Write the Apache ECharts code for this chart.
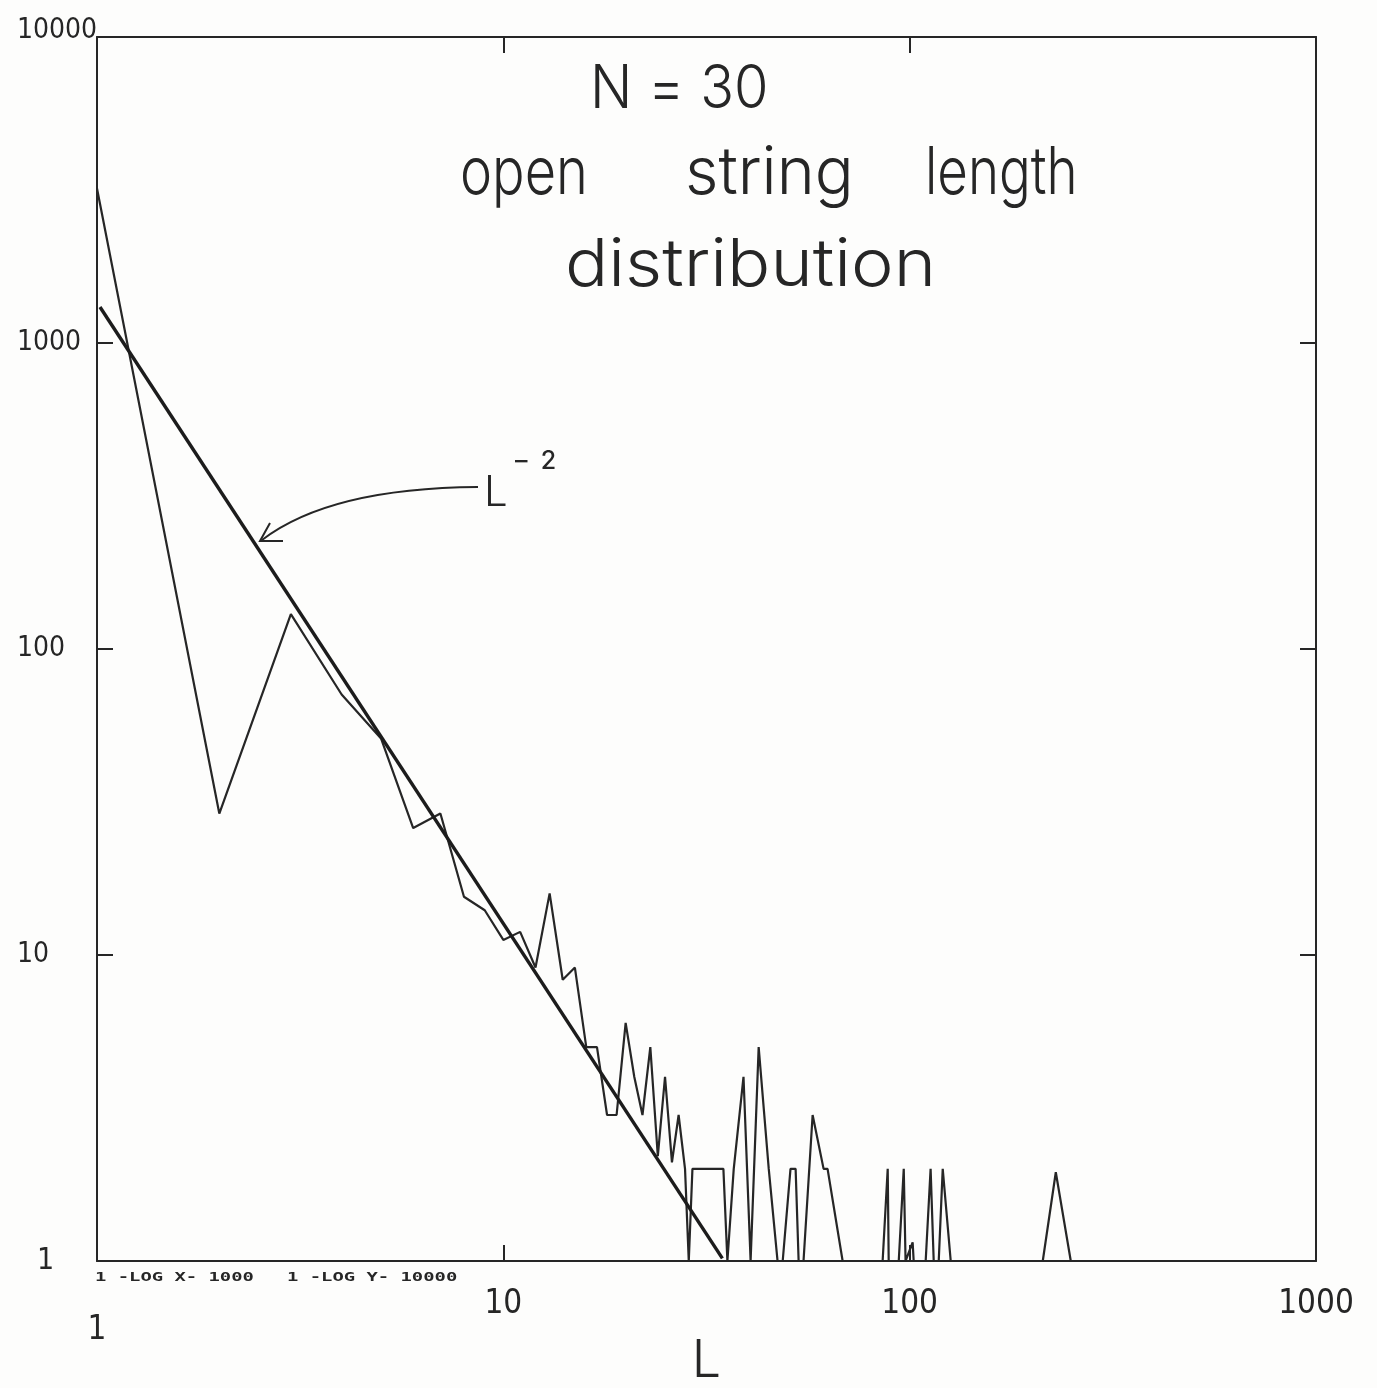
<!DOCTYPE html>
<html>
<head>
<meta charset="utf-8">
<script src="https://cdn.jsdelivr.net/npm/echarts@6/dist/echarts.min.js"></script>
<style>
html,body{margin:0;padding:0;background:#fdfdfc;}
#chart{width:1377px;height:1388px;}
</style>
</head>
<body>
<div id="chart"></div>
<script>
// ---- data ----
// open string length L (x) and number of strings (y)
const lengthL = [1, 2, 3, 4, 5, 6, 7, 8, 9, 10, 11, 12, 13, 14, 15, 16, 17, 18, 19, 20,
  21, 22, 23, 24, 25, 26, 27, 28, 28.6, 29.2, 34.8, 35.6, 36.9, 39.0, 40.6, 42.5, 45.0, 47.3,
  48.7, 50.9, 52.4, 53.3, 54.8, 57.7, 61.4, 62.8, 68.4, 85.8, 88.3, 88.8, 94.0, 96.7, 97.7,
  101.7, 102.3, 109.5, 112.6, 114.6, 117.9, 120.6, 126.2, 212.6, 228.9, 249.2, 1000];
const counts = [3200, 29, 130, 71, 51, 26, 29, 15.5, 14, 11.2, 11.9, 9.1, 15.9, 8.3, 9.1, 5, 5, 3, 3, 6,
  4, 3, 5, 2.2, 4, 2.1, 3, 2, 1, 2, 2, 1, 2, 4, 1, 5, 2, 1,
  1, 2, 2, 1, 1, 3, 2, 2, 1, 1, 2, 1, 1, 2, 1,
  1.15, 1, 1, 2, 1, 1, 2, 1, 1, 1.95, 1, 1];
// L^-2 reference line, two end points
const fitL = [1.017, 34.6];
const fitCounts = [1311, 1.02];
// axis ticks
const xTickValues = [1, 10, 100, 1000];
const xTickLabels = ['1', '10', '100', '1000'];
const yTickValues = [1, 10, 100, 1000, 10000];
const yTickLabels = ['1', '10', '100', '1000', '10000'];
// texts
const titleLine1 = 'N = 30';
const titleWords = ['open', 'string', 'length'];
const titleLine3 = 'distribution';
const fitLabel = 'L';
const fitLabelSup = '–  2';
const plotterNote1 = '1 -LOG X- 1000';
const plotterNote2 = '1 -LOG Y- 10000';
const xName = 'L';

const ink = '#262626';
const hand = 'Inter, "Open Sans", "DejaVu Sans", sans-serif';
const narrow = '"Liberation Sans Narrow", "DejaVu Sans Condensed", Inter, sans-serif';

const dataPairs = lengthL.map((l, i) => [l, counts[i]]);
const fitPairs = fitL.map((l, i) => [l, fitCounts[i]]);

function lab(values, labels) {
  return v => {
    const i = values.findIndex(t => Math.abs(t - v) / t < 1e-6);
    return i >= 0 ? labels[i] : '';
  };
}

const chart = echarts.init(document.getElementById('chart'), null, {renderer: 'canvas'});
const axisLineStyle = {show: true, lineStyle: {color: ink, width: 2}};
const tickStyle = {show: true, inside: true, length: 16, lineStyle: {color: ink, width: 2}};

function handText(text, left, top, size, sx) {
  return {type: 'text', left: left, top: top, scaleX: sx,
    style: {text: text, font: '300 ' + size + 'px ' + hand, fill: ink}};
}

chart.setOption({
  backgroundColor: '#fdfdfc',
  animation: false,
  grid: {left: 97, right: 61, top: 37, bottom: 127, show: false, containLabel: false, outerBoundsMode: 'none'},
  xAxis: [{
    type: 'log', logBase: 10, min: 1, max: 1000, position: 'bottom',
    axisLine: axisLineStyle, axisTick: tickStyle, splitLine: {show: false},
    minorTick: {show: false},
    axisLabel: {
      margin: 27, color: ink, fontFamily: narrow, fontSize: 33,
      formatter: v => {
        const s = lab(xTickValues, xTickLabels)(v);
        return v === 1 ? '{one|' + s + '}' : s;
      },
      rich: {one: {fontFamily: narrow, fontSize: 33, color: ink, padding: [26, 0, 0, 0]}}
    },
    name: xName, nameLocation: 'middle', nameGap: 74, nameMoveOverlap: false,
    nameTextStyle: {color: ink, fontFamily: hand, fontSize: 52, fontWeight: 300}
  }, {
    type: 'log', logBase: 10, min: 1, max: 1000, position: 'top',
    axisLine: axisLineStyle, axisTick: tickStyle, splitLine: {show: false},
    axisLabel: {show: false}
  }],
  yAxis: [{
    type: 'log', logBase: 10, min: 1, max: 10000, position: 'left',
    axisLine: axisLineStyle, axisTick: tickStyle, splitLine: {show: false},
    axisLabel: {
      margin: 80, align: 'left', color: ink, fontFamily: narrow, fontSize: 28,
      formatter: v => {
        const s = lab(yTickValues, yTickLabels)(v);
        if (v === 1) return '{one|' + s + '}';
        if (v === 10000) return '{top|' + s + '}';
        return s;
      },
      rich: {
        one: {fontFamily: narrow, fontSize: 30, color: ink, padding: [0, 0, 0, 20]},
        top: {fontFamily: narrow, fontSize: 28, color: ink, padding: [0, 0, 12, 0]}
      }
    }
  }, {
    type: 'log', logBase: 10, min: 1, max: 10000, position: 'right',
    axisLine: axisLineStyle, axisTick: tickStyle, splitLine: {show: false},
    axisLabel: {show: false}
  }],
  series: [{
    type: 'line', name: 'data', data: dataPairs, showSymbol: false, symbol: 'none',
    lineStyle: {color: ink, width: 2.2}, clip: true, z: 3
  }, {
    type: 'line', name: 'L^-2', data: fitPairs, showSymbol: false, symbol: 'none',
    lineStyle: {color: '#1c1c1c', width: 3.4}, z: 4
  }],
  graphic: [
    handText(titleLine1, 590, 60, 60, 0.93),
    handText(titleWords[0], 460, 141, 66, 0.82),
    handText(titleWords[1], 685, 141, 66, 0.98),
    handText(titleWords[2], 925, 141, 66, 0.8),
    handText(titleLine3, 565, 233, 66, 1.09),
    {type: 'text', left: 484, top: 472, style: {text: fitLabel, font: '300 42px ' + hand, fill: ink}},
    {type: 'text', left: 515, top: 449, style: {text: fitLabelSup, font: '500 25px ' + hand, fill: ink}},
    {type: 'bezierCurve', shape: {x1: 478, y1: 487, x2: 262, y2: 540, cpx1: 330, cpy1: 488},
      style: {stroke: ink, lineWidth: 2, fill: null}},
    {type: 'polyline', shape: {points: [[283, 541], [260, 541], [270, 523]]},
      style: {stroke: ink, lineWidth: 2, fill: null}},
    {type: 'text', left: 95, top: 1271, scaleX: 1.45, style: {text: plotterNote1, font: 'bold 13px "DejaVu Sans Mono", monospace', fill: ink}},
    {type: 'text', left: 287, top: 1271, scaleX: 1.45, style: {text: plotterNote2, font: 'bold 13px "DejaVu Sans Mono", monospace', fill: ink}}
  ]
});
</script>
</body>
</html>
